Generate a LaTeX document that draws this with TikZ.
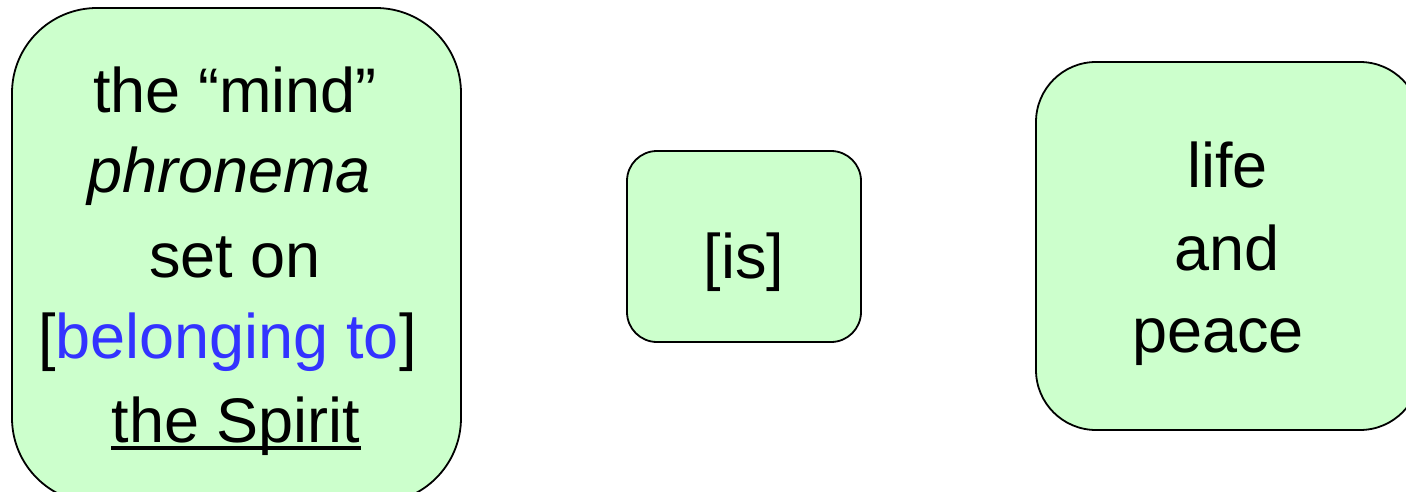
\documentclass[tikz,border=0pt]{standalone}
\usepackage{fontspec}
\setmainfont{Liberation Sans}
\definecolor{boxgreen}{HTML}{CCFFCC}
\definecolor{txtblue}{HTML}{3333FF}
\begin{document}
\begin{tikzpicture}[x=1pt,y=-1pt,
  greenbox/.style={draw=black,fill=boxgreen,line width=1.8pt},
  txt/.style={anchor=base,inner sep=0pt,font=\fontsize{63}{82}\selectfont}]
\useasboundingbox (0,0) rectangle (1406,492);
\clip (0,0) rectangle (1406,492);
% boxes
\draw[greenbox,rounded corners=85pt] (12,8) rectangle (461,503);
\draw[greenbox,rounded corners=30pt] (627,151) rectangle (861,342);
\draw[greenbox,rounded corners=60pt] (1036,62) rectangle (1420,430);
% left box text
\node[txt] (l1) at (235,113) {the “mind”};
\node[txt] (l2) at (229,193) {\itshape phronema};
\node[txt] (l3) at (235,277) {set on};
\node[txt] (l4) at (227.5,358) {[\textcolor{txtblue}{belonging to}]};
\node[txt] (l5) at (236,442) {the Spirit};
\draw[line width=4pt] ([yshift=-6pt]l5.base west) -- ([yshift=-6pt]l5.base east);
% middle
\node[txt] (m1) at (744,278) {[is]};
% right
\node[txt] (r1) at (1227.5,188) {life};
\node[txt] (r2) at (1227,270) {and};
\node[txt] (r3) at (1218,352) {peace};
\end{tikzpicture}
\end{document}
